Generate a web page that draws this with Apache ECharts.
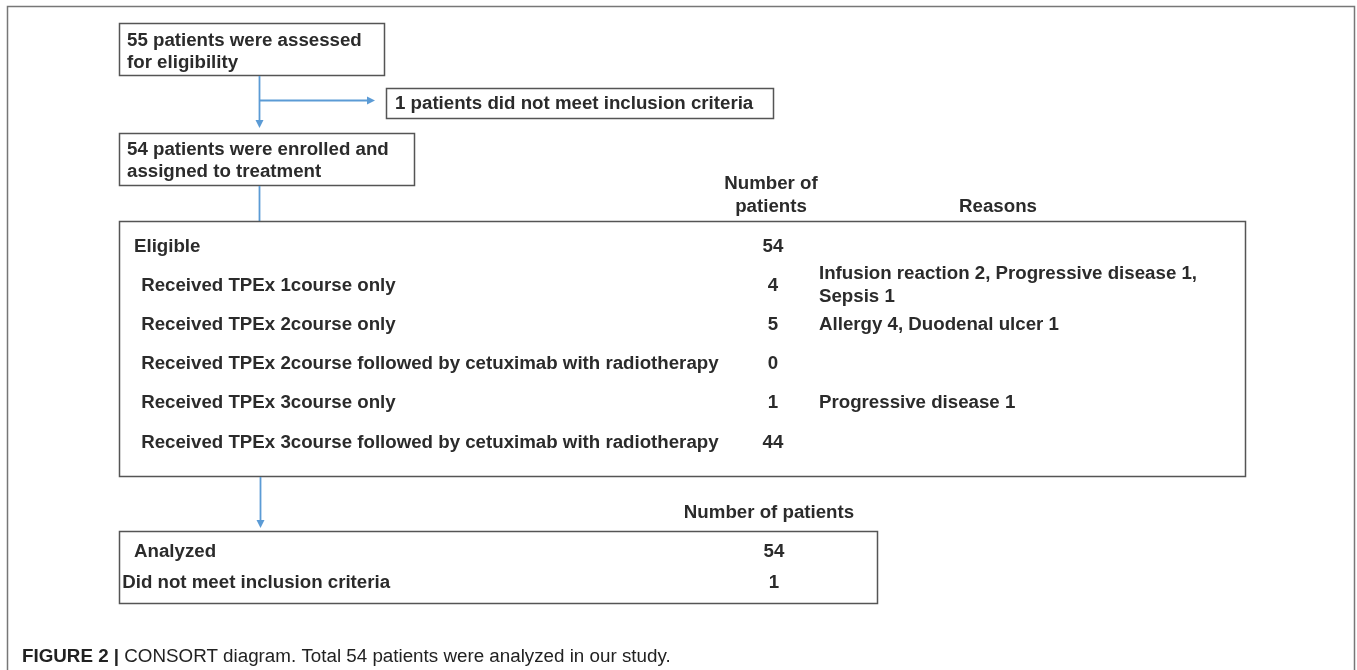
<!DOCTYPE html>
<html>
<head>
<meta charset="utf-8">
<script src="https://cdn.jsdelivr.net/npm/echarts@6/dist/echarts.min.js"></script>
<style>
html,body{margin:0;padding:0;background:#fff;}
#main{width:1357px;height:670px;}
</style>
</head>
<body>
<div id="main"></div>
<script>
// ---- data ----
const assessedText = ['55 patients were assessed', 'for eligibility'];
const excludedText = ['1 patients did not meet inclusion criteria'];
const enrolledText = ['54 patients were enrolled and', 'assigned to treatment'];
const countHeader = ['Number of', 'patients'];
const reasonHeader = 'Reasons';
const rowLabels = [
  'Eligible',
  ' Received TPEx 1course only',
  ' Received TPEx 2course only',
  ' Received TPEx 2course followed by cetuximab with radiotherapy',
  ' Received TPEx 3course only',
  ' Received TPEx 3course followed by cetuximab with radiotherapy'
];
const rowCounts = [54, 4, 5, 0, 1, 44];
const rowReasons = [
  '',
  'Infusion reaction 2, Progressive disease 1,\nSepsis 1',
  'Allergy 4, Duodenal ulcer 1',
  '',
  'Progressive disease 1',
  ''
];
const analyzedHeader = 'Number of patients';
const analyzedLabels = ['Analyzed', ' Did not meet inclusion criteria'];
const analyzedCounts = [54, 1];
const captionBold = 'FIGURE 2 |';
const captionText = ' CONSORT diagram. Total 54 patients were analyzed in our study.';

// ---- styles ----
const FONT = 'Liberation Sans, Arial, sans-serif';
const TXT = '#2b2b2b';
const BOX = '#555555';
const ARROW = '#5b9bd5';
const FS = 18.7;
const DY = 1.5;

function box(x, y, w, h) {
  return { type: 'rect', shape: { x: x, y: y, width: w, height: h },
    style: { fill: '#fff', stroke: BOX, lineWidth: 1.5 } };
}
function text(t, x, y, opts) {
  opts = opts || {};
  return { type: 'text', x: x, y: y + DY, z: 10,
    style: { text: t, fill: opts.fill || TXT, font: (opts.weight || 'bold') + ' ' + (opts.size || FS) + 'px ' + FONT,
      textAlign: opts.align || 'left', textVerticalAlign: 'middle', lineHeight: opts.lh || 23 } };
}
function line(x1, y1, x2, y2) {
  return { type: 'line', shape: { x1: x1, y1: y1, x2: x2, y2: y2 }, style: { stroke: ARROW, lineWidth: 1.8 } };
}
function arrowHead(x, y, dir) {
  let pts;
  if (dir === 'down') pts = [[x - 4, y - 8], [x + 4, y - 8], [x, y]];
  else pts = [[x - 8, y - 4], [x - 8, y + 4], [x, y]];
  return { type: 'polygon', shape: { points: pts }, style: { fill: ARROW } };
}

const els = [];
// outer frame
els.push({ type: 'rect', shape: { x: 7.5, y: 6.5, width: 1347, height: 700 }, style: { fill: null, stroke: '#777', lineWidth: 1.5 } });

// top box
els.push(box(119.5, 23.5, 265, 52));
assessedText.forEach((t, i) => els.push(text(t, 127, 39 + i * 22.5)));
// arrows
els.push(line(259.5, 76, 259.5, 122));
els.push(arrowHead(259.5, 128, 'down'));
els.push(line(259.5, 100.5, 369, 100.5));
els.push(arrowHead(375, 100.5, 'right'));
// excluded box
els.push(box(386.5, 88.5, 387, 30));
excludedText.forEach((t) => els.push(text(t, 395, 102.5)));
// enrolled box
els.push(box(119.5, 133.5, 295, 52));
enrolledText.forEach((t, i) => els.push(text(t, 127, 148 + i * 22.5)));
els.push(line(259.5, 186, 259.5, 221));

// headers
countHeader.forEach((t, i) => els.push(text(t, 771, 182 + i * 23, { align: 'center' })));
els.push(text(reasonHeader, 998, 205, { align: 'center' }));

// big table box
els.push(box(119.5, 221.5, 1126, 255));
const rowY0 = 245, rowStep = 39.2;
rowLabels.forEach((t, i) => {
  const y = rowY0 + i * rowStep;
  els.push(text(t, i === 0 ? 134 : 136, y));
  els.push(text(String(rowCounts[i]), 773, y, { align: 'center' }));
  if (rowReasons[i]) els.push(text(rowReasons[i], 819, y));
});

// arrow to analyzed
els.push(line(260.5, 477, 260.5, 522));
els.push(arrowHead(260.5, 528, 'down'));
els.push(text(analyzedHeader, 769, 511.5, { align: 'center' }));
els.push(box(119.5, 531.5, 758, 72));
analyzedLabels.forEach((t, i) => {
  const y = 550.5 + i * 31;
  els.push(text(t, i === 0 ? 134 : 117, y));
  els.push(text(String(analyzedCounts[i]), 774, y, { align: 'center' }));
});

// caption
els.push({ type: 'text', x: 22, y: 656.5, z: 10,
  style: { rich: { b: { fontWeight: 'bold', fontSize: 18.8, fontFamily: FONT, fill: '#222' },
                   r: { fontWeight: 'normal', fontSize: 18.8, fontFamily: FONT, fill: '#222' } },
           text: '{b|' + captionBold + '}{r|' + captionText + '}', textVerticalAlign: 'middle' } });

const chart = echarts.init(document.getElementById('main'), null, { renderer: 'canvas' });
chart.setOption({ backgroundColor: '#fff', animation: false, graphic: { elements: els } });
</script>
</body>
</html>
